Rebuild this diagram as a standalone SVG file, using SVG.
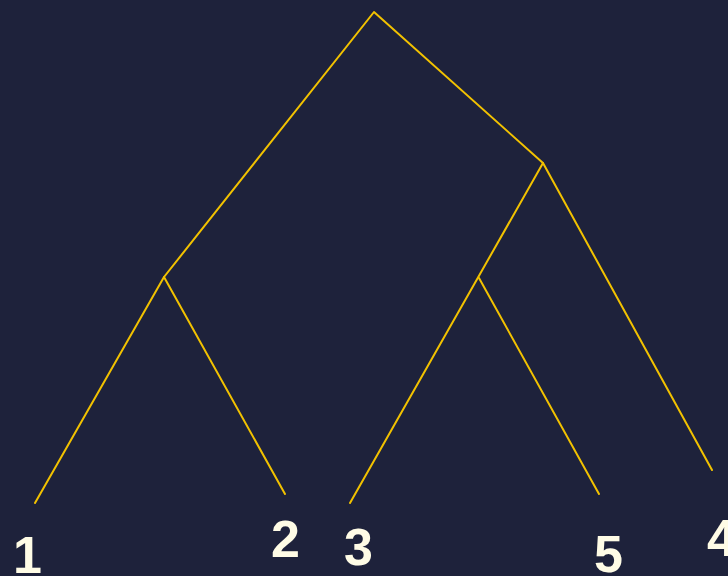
<svg xmlns="http://www.w3.org/2000/svg" width="728" height="576" viewBox="0 0 728 576">
<style>
.e{stroke:#f2c200;stroke-width:2;fill:none;stroke-linecap:round;stroke-linejoin:round}
.l{font-family:"Liberation Sans",Arial,sans-serif;font-weight:bold;font-size:52px;fill:#fffce6}
</style>
<rect width="728" height="576" fill="#1e223b"/>
<g id="connectors">
<polyline class="e" points="164,277 374,12 543,163"/>
<polyline class="e" points="35,503 164,277 285,494"/>
<polyline class="e" points="350,503 543,163 712,470"/>
<line class="e" x1="479" y1="278" x2="599" y2="494"/>
</g>
<g id="leaf1"><text class="l" x="13" y="573">1</text></g>
<g id="leaf2"><text class="l" x="271" y="557">2</text></g>
<g id="leaf3"><text class="l" x="344" y="565">3</text></g>
<g id="leaf5"><text class="l" x="594" y="572">5</text></g>
<g id="leaf4"><text class="l" x="707" y="556">4</text></g>
</svg>
